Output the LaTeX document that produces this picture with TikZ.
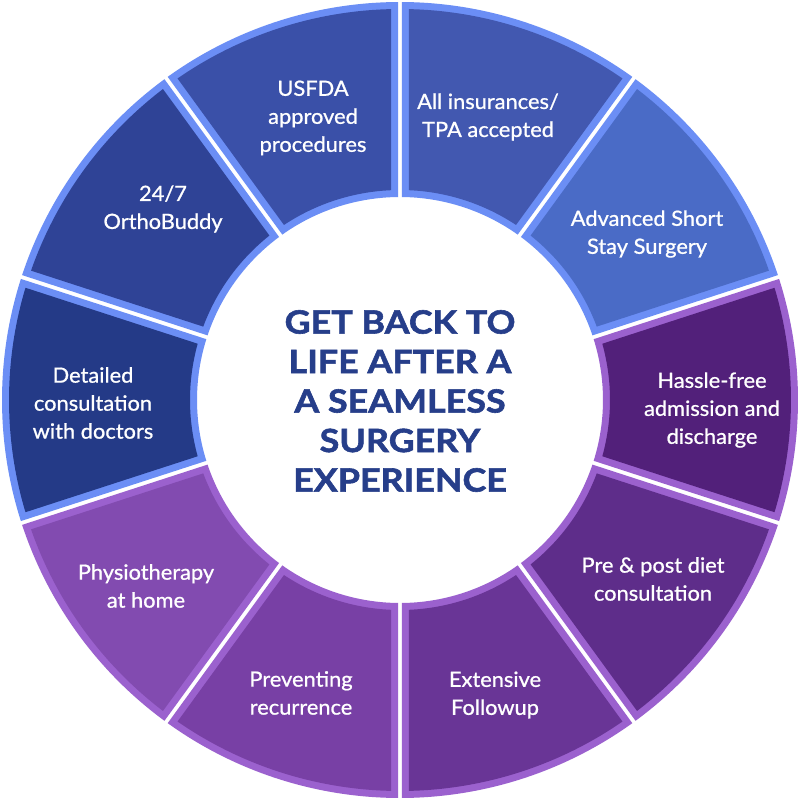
\documentclass[tikz,border=0pt]{standalone}
\usepackage{fontspec}
\setmainfont{Lato}
\newfontfamily\titlefont{Lato}[BoldFeatures={FakeStretch=1.12,FakeBold=1.8}]
\newfontfamily\segfont{Lato}[FakeBold=0.9,FakeStretch=1.04]
\definecolor{lblue}{HTML}{6B8EF5}
\definecolor{lpurp}{HTML}{9B61CE}
\definecolor{cIns}{HTML}{4258B0}
\definecolor{cAdv}{HTML}{4A6BC6}
\definecolor{cHas}{HTML}{52207A}
\definecolor{cPre}{HTML}{5E2D8A}
\definecolor{cExt}{HTML}{693596}
\definecolor{cPrv}{HTML}{7840A5}
\definecolor{cPhy}{HTML}{824BB0}
\definecolor{cDet}{HTML}{243A87}
\definecolor{cOrt}{HTML}{2F4396}
\definecolor{cUsf}{HTML}{3A50A8}
\definecolor{ctitle}{HTML}{263E8A}
\def\Ro{398}
\def\Ri{203}
\def\hg{2}
\def\bw{7}
\newcommand\ringseg[4]{%
  \fill[#3] ({#1+asin(\hg/\Ro)}:\Ro pt)
    arc[start angle={#1+asin(\hg/\Ro)}, end angle={#2-asin(\hg/\Ro)}, radius=\Ro pt]
    -- ({#2-asin(\hg/\Ri)}:\Ri pt)
    arc[start angle={#2-asin(\hg/\Ri)}, end angle={#1+asin(\hg/\Ri)}, radius=\Ri pt]
    -- cycle;
  \pgfmathsetmacro\ro{\Ro-\bw}%
  \pgfmathsetmacro\ri{\Ri+\bw}%
  \pgfmathsetmacro\dd{\hg+\bw}%
  \fill[#4] ({#1+asin(\dd/\ro)}:\ro pt)
    arc[start angle={#1+asin(\dd/\ro)}, end angle={#2-asin(\dd/\ro)}, radius=\ro pt]
    -- ({#2-asin(\dd/\ri)}:\ri pt)
    arc[start angle={#2-asin(\dd/\ri)}, end angle={#1+asin(\dd/\ri)}, radius=\ri pt]
    -- cycle;
}
\tikzset{
  segtext/.style={text=white, align=center, font=\segfont\fontsize{21}{28}\selectfont, inner sep=0pt},
  titletext/.style={text=ctitle, align=center, font=\titlefont\bfseries\fontsize{32}{39.5}\selectfont, inner sep=0pt}
}
\begin{document}
\begin{tikzpicture}[x=1pt,y=1pt]
\useasboundingbox[fill=white] (-400,-400) rectangle (400,400);
\ringseg{54}{90}{lblue}{cIns}
\ringseg{18}{54}{lblue}{cAdv}
\ringseg{-18}{18}{lpurp}{cHas}
\ringseg{-54}{-18}{lpurp}{cPre}
\ringseg{-90}{-54}{lpurp}{cExt}
\ringseg{234}{270}{lpurp}{cPrv}
\ringseg{198}{234}{lpurp}{cPhy}
\ringseg{162}{198}{lblue}{cDet}
\ringseg{126}{162}{lblue}{cOrt}
\ringseg{90}{126}{lblue}{cUsf}
\node[segtext] (usfda) at (-87,282) {USFDA\\approved\\procedures};
\node[segtext] (ins) at (88,283) {All insurances/\\TPA accepted};
\node[segtext] (adv) at (247,166) {Advanced Short\\Stay Surgery};
\node[segtext] (has) at (312,-10) {Hassle-free\\admission and\\discharge};
\node[segtext] (pre) at (253,-179) {Pre \& post diet\\consultation};
\node[segtext] (ext) at (95,-295) {Extensive\\Followup};
\node[segtext] (prv) at (-99,-293) {Preventing\\recurrence};
\node[segtext] (phy) at (-254,-186) {Physiotherapy\\at home};
\node[segtext] (det) at (-307,-3) {Detailed\\consultation\\with doctors};
\node[segtext] (ort) at (-237,191) {24/7\\OrthoBuddy};
\node[titletext] (title) at (0,-1) {GET BACK TO\\LIFE AFTER A\\A SEAMLESS\\SURGERY\\EXPERIENCE};
\end{tikzpicture}
\end{document}
